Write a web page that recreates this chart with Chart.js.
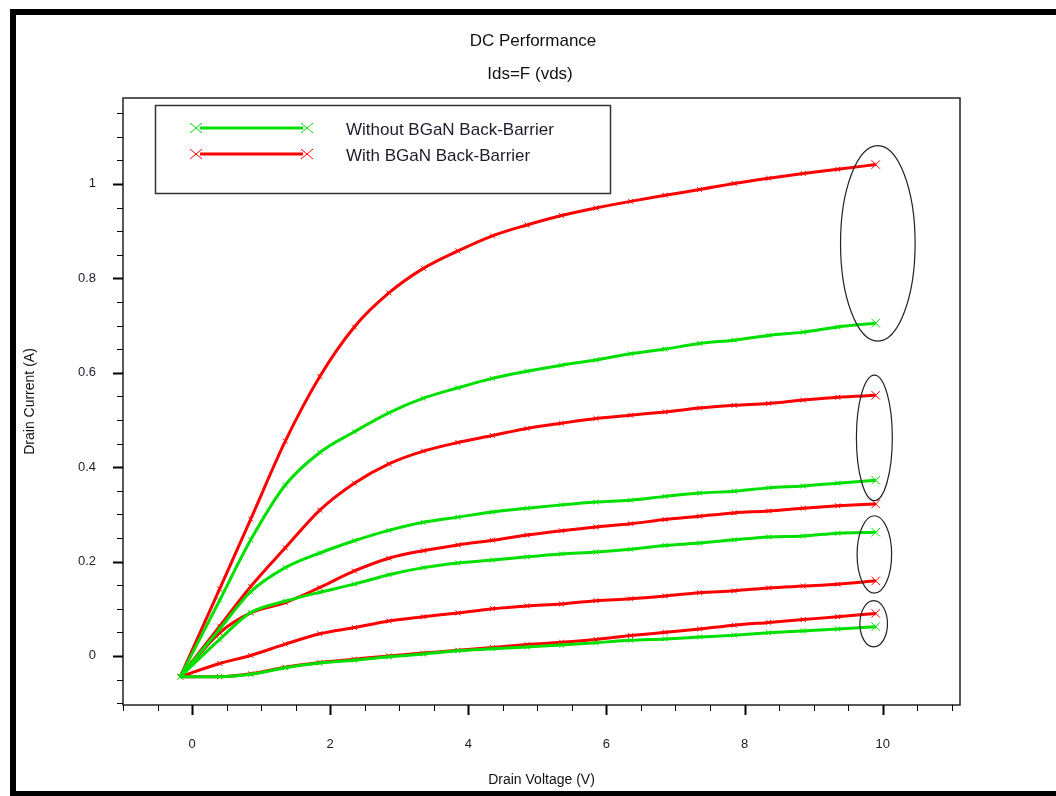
<!DOCTYPE html>
<html>
<head>
<meta charset="utf-8">
<title>DC Performance</title>
<script src="https://cdn.jsdelivr.net/npm/chart.js@4.4.0/dist/chart.umd.min.js"></script>
<style>
  body { margin: 0; background: #fff; }
  canvas { display: block; }
</style>
</head>
<body>
<canvas id="dc-chart" width="1056" height="796"></canvas>
<script>
// Drain voltage sample points (V)
const vds = [-0.17, 0.4, 0.85, 1.35, 1.85, 2.35, 2.85, 3.35, 3.85, 4.35, 4.85,
  5.35, 5.85, 6.35, 6.85, 7.35, 7.85, 8.35, 8.85, 9.35, 9.9];

// Drain current (A) - without BGaN back-barrier (green)
const idsWithout1 = [-0.044, 0.118, 0.246, 0.362, 0.431, 0.475, 0.515, 0.546, 0.568, 0.588, 0.603,
  0.616, 0.627, 0.640, 0.650, 0.662, 0.669, 0.679, 0.686, 0.697, 0.705];
const idsWithout2 = [-0.044, 0.057, 0.136, 0.187, 0.218, 0.244, 0.266, 0.283, 0.294, 0.305, 0.313,
  0.320, 0.326, 0.330, 0.338, 0.345, 0.349, 0.356, 0.360, 0.366, 0.372];
const idsWithout3 = [-0.044, 0.035, 0.092, 0.116, 0.135, 0.152, 0.172, 0.187, 0.197, 0.203, 0.210,
  0.216, 0.220, 0.226, 0.234, 0.239, 0.246, 0.252, 0.254, 0.260, 0.262];
const idsWithout4 = [-0.044, -0.044, -0.039, -0.025, -0.015, -0.009, -0.002, 0.004, 0.011, 0.015, 0.019,
  0.023, 0.028, 0.033, 0.036, 0.040, 0.044, 0.049, 0.053, 0.057, 0.062];

// Drain current (A) - with BGaN back-barrier (red)
const idsWith1 = [-0.044, 0.142, 0.290, 0.455, 0.592, 0.697, 0.769, 0.821, 0.858, 0.890, 0.913,
  0.933, 0.949, 0.963, 0.976, 0.988, 1.001, 1.012, 1.022, 1.031, 1.041];
const idsWith2 = [-0.044, 0.063, 0.147, 0.229, 0.309, 0.366, 0.407, 0.434, 0.452, 0.467, 0.482,
  0.493, 0.503, 0.510, 0.517, 0.525, 0.531, 0.535, 0.542, 0.548, 0.552];
const idsWith3 = [-0.044, 0.049, 0.091, 0.113, 0.145, 0.180, 0.207, 0.223, 0.235, 0.245, 0.256,
  0.265, 0.273, 0.280, 0.289, 0.296, 0.303, 0.307, 0.313, 0.318, 0.322];
const idsWith4 = [-0.044, -0.016, 0.001, 0.025, 0.047, 0.060, 0.074, 0.083, 0.091, 0.100, 0.106,
  0.110, 0.117, 0.121, 0.127, 0.134, 0.138, 0.144, 0.148, 0.152, 0.159];
const idsWith5 = [-0.044, -0.044, -0.038, -0.024, -0.014, -0.007, 0.000, 0.006, 0.012, 0.018, 0.024,
  0.029, 0.035, 0.043, 0.050, 0.057, 0.065, 0.071, 0.077, 0.083, 0.090];

const seriesNames = ["Without BGaN Back-Barrier", "With BGaN Back-Barrier"];
const titleLines = ["DC Performance", "Ids=F (vds)"];

// axis ticks
const xTickValues = [];
for (let i = -2; i <= 22; i++) xTickValues.push(i / 2);
const yTickValues = [];
for (let i = -2; i <= 23; i++) yTickValues.push(Math.round(i * 5) / 100);

const GREEN = "#00e000";
const RED = "#ff0000";
const FONT = "'Liberation Sans', Arial, sans-serif";

const isMajor = (v, step) => Math.abs(v / step - Math.round(v / step)) < 1e-6;

function makeSet(label, ids, color) {
  return {
    label: label,
    data: vds.map((v, i) => ({ x: v, y: ids[i] })),
    borderColor: color,
    backgroundColor: color,
    borderWidth: 3,
    cubicInterpolationMode: "monotone",
    pointStyle: "crossRot",
    pointRadius: (c) => (c.dataIndex === vds.length - 1 ? 6 : 3.5),
    pointBorderWidth: 1,
    pointBorderColor: color,
  };
}

// ellipses drawn round the curve ends (data units)
const highlights = [
  { x: 9.93, y: 0.874, rx: 0.54, ry: 0.207 },
  { x: 9.88, y: 0.462, rx: 0.26, ry: 0.133 },
  { x: 9.88, y: 0.215, rx: 0.25, ry: 0.082 },
  { x: 9.87, y: 0.068, rx: 0.2, ry: 0.049 },
];

const decorations = {
  id: "decorations",
  beforeDraw(chart) {
    const ctx = chart.ctx;
    ctx.save();
    ctx.fillStyle = "#fff";
    ctx.fillRect(0, 0, chart.width, chart.height);
    // outer window frame
    ctx.fillStyle = "#000";
    ctx.fillRect(10, 9, 6, 787);
    ctx.fillRect(10, 9, 1046, 6);
    ctx.fillRect(10, 791, 1046, 5);
    // titles
    ctx.fillStyle = "#111";
    ctx.font = "17px " + FONT;
    ctx.textAlign = "center";
    ctx.textBaseline = "middle";
    ctx.fillText(titleLines[0], 533, 41);
    ctx.fillText(titleLines[1], 530, 74);
    ctx.restore();
  },
  afterDraw(chart) {
    const ctx = chart.ctx;
    const a = chart.chartArea;
    const xs = chart.scales.x;
    const ys = chart.scales.y;
    ctx.save();

    // plot frame
    ctx.strokeStyle = "#222";
    ctx.lineWidth = 1.5;
    ctx.strokeRect(a.left, a.top, a.right - a.left, a.bottom - a.top);

    // tick marks
    ctx.strokeStyle = "#000";
    xTickValues.forEach((v) => {
      const px = Math.round(xs.getPixelForValue(v)) + 0.5;
      const major = isMajor(v, 2);
      ctx.lineWidth = major ? 2 : 1;
      ctx.beginPath();
      ctx.moveTo(px, a.bottom);
      ctx.lineTo(px, a.bottom + (major ? 10 : 6));
      ctx.stroke();
    });
    yTickValues.forEach((v) => {
      const py = Math.round(ys.getPixelForValue(v)) + 0.5;
      const major = isMajor(v, 0.2);
      ctx.lineWidth = major ? 2 : 1;
      ctx.beginPath();
      ctx.moveTo(a.left, py);
      ctx.lineTo(a.left - (major ? 10 : 6), py);
      ctx.stroke();
    });

    // ellipses
    ctx.strokeStyle = "#222";
    ctx.lineWidth = 1.2;
    highlights.forEach((h) => {
      const cx = xs.getPixelForValue(h.x);
      const cy = ys.getPixelForValue(h.y);
      const rx = Math.abs(xs.getPixelForValue(h.x + h.rx) - cx);
      const ry = Math.abs(ys.getPixelForValue(h.y + h.ry) - cy);
      ctx.beginPath();
      ctx.ellipse(cx, cy, rx, ry, 0, 0, Math.PI * 2);
      ctx.stroke();
    });

    // legend box
    ctx.strokeStyle = "#333";
    ctx.lineWidth = 1.5;
    ctx.strokeRect(155.5, 105.5, 455, 88);
    const colors = [GREEN, RED];
    ctx.font = "17px " + FONT;
    ctx.textBaseline = "middle";
    ctx.textAlign = "left";
    seriesNames.forEach((name, i) => {
      const y = 128 + i * 26;
      ctx.strokeStyle = colors[i];
      ctx.lineWidth = 3;
      ctx.beginPath();
      ctx.moveTo(200, y);
      ctx.lineTo(303, y);
      ctx.stroke();
      ctx.lineWidth = 1;
      [196, 307].forEach((mx) => {
        ctx.beginPath();
        ctx.moveTo(mx - 6, y - 5);
        ctx.lineTo(mx + 6, y + 5);
        ctx.moveTo(mx - 6, y + 5);
        ctx.lineTo(mx + 6, y - 5);
        ctx.stroke();
      });
      ctx.fillStyle = "#1c1c2c";
      ctx.fillText(name, 346, y + 2);
    });
    ctx.restore();
  },
};

const ctx = document.getElementById("dc-chart").getContext("2d");
const dcChart = new Chart(ctx, {
  type: "line",
  data: {
    datasets: [
      makeSet(seriesNames[0], idsWithout1, GREEN),
      makeSet(seriesNames[0], idsWithout2, GREEN),
      makeSet(seriesNames[0], idsWithout3, GREEN),
      makeSet(seriesNames[0], idsWithout4, GREEN),
      makeSet(seriesNames[1], idsWith1, RED),
      makeSet(seriesNames[1], idsWith2, RED),
      makeSet(seriesNames[1], idsWith3, RED),
      makeSet(seriesNames[1], idsWith4, RED),
      makeSet(seriesNames[1], idsWith5, RED),
    ],
  },
  options: {
    responsive: false,
    animation: false,
    layout: { padding: { left: 0, right: 96, top: 98, bottom: 0 } },
    plugins: {
      legend: { display: false },
      tooltip: { enabled: false },
    },
    scales: {
      x: {
        type: "linear",
        min: -1,
        max: 11.12,
        afterBuildTicks: (s) => { s.ticks = xTickValues.map((v) => ({ value: v })); },
        afterFit: (s) => { s.height = 91; },
        ticks: {
          autoSkip: false,
          maxRotation: 0,
          padding: 32,
          color: "#1c1c2c",
          font: { family: FONT, size: 13 },
          callback: (v) => (isMajor(v, 2) ? String(Math.round(v)) : ""),
        },
        grid: { display: false, drawTicks: false },
        border: { display: false },
        title: {
          display: true,
          text: "Drain Voltage (V)",
          color: "#111",
          font: { family: FONT, size: 14 },
          padding: { top: 0, bottom: 7 },
        },
      },
      y: {
        type: "linear",
        min: -0.104,
        max: 1.182,
        afterBuildTicks: (s) => { s.ticks = yTickValues.map((v) => ({ value: v })); },
        afterFit: (s) => { s.width = 123; },
        ticks: {
          autoSkip: false,
          padding: 27,
          color: "#1c1c2c",
          font: { family: FONT, size: 13 },
          callback: (v) => (isMajor(v, 0.2) ? String(Math.round(v * 10) / 10) : ""),
        },
        grid: { display: false, drawTicks: false },
        border: { display: false },
        title: {
          display: true,
          text: "Drain Current (A)",
          color: "#111",
          font: { family: FONT, size: 14 },
          padding: { top: 22, bottom: 0 },
        },
      },
    },
  },
  plugins: [decorations],
});
</script>
</body>
</html>
